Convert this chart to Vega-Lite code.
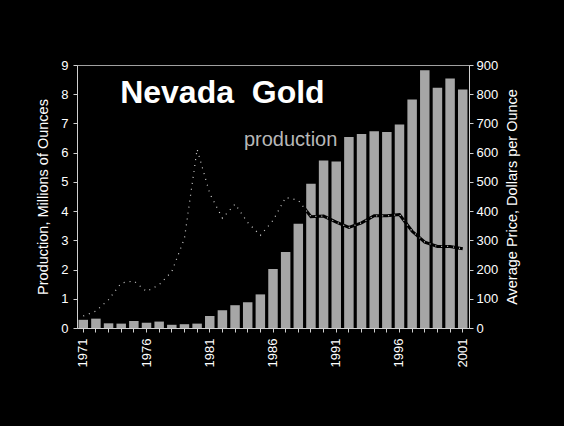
{
  "$schema": "https://vega.github.io/schema/vega-lite/v6.json",
  "width": 392,
  "height": 263,
  "autosize": {"type": "none"},
  "padding": {"left": 77, "top": 65, "right": 95, "bottom": 98},
  "background": "black",
  "config": {
    "font": "Liberation Sans",
    "view": {"stroke": "#a0a0a0", "strokeWidth": 1},
    "axis": {
      "labelColor": "white",
      "titleColor": "white",
      "domainColor": "#d0d0d0",
      "tickColor": "#d0d0d0",
      "labelFontSize": 13,
      "titleFontSize": 14.5,
      "titleFontWeight": "normal",
      "grid": false,
      "tickSize": 4,
      "labelOverlap": false
    }
  },
  "data": {
    "values": [
      {"year": 1971, "production": 0.28, "price": 41},
      {"year": 1972, "production": 0.32, "price": 58},
      {"year": 1973, "production": 0.16, "price": 97},
      {"year": 1974, "production": 0.15, "price": 154},
      {"year": 1975, "production": 0.24, "price": 161},
      {"year": 1976, "production": 0.18, "price": 125},
      {"year": 1977, "production": 0.22, "price": 148},
      {"year": 1978, "production": 0.11, "price": 193},
      {"year": 1979, "production": 0.13, "price": 307},
      {"year": 1980, "production": 0.15, "price": 612},
      {"year": 1981, "production": 0.41, "price": 460},
      {"year": 1982, "production": 0.61, "price": 376},
      {"year": 1983, "production": 0.78, "price": 424},
      {"year": 1984, "production": 0.88, "price": 361},
      {"year": 1985, "production": 1.15, "price": 317},
      {"year": 1986, "production": 2.02, "price": 368},
      {"year": 1987, "production": 2.6, "price": 447},
      {"year": 1988, "production": 3.57, "price": 437},
      {"year": 1989, "production": 4.94, "price": 381},
      {"year": 1990, "production": 5.73, "price": 383},
      {"year": 1991, "production": 5.7, "price": 362},
      {"year": 1992, "production": 6.54, "price": 344},
      {"year": 1993, "production": 6.64, "price": 360},
      {"year": 1994, "production": 6.73, "price": 384},
      {"year": 1995, "production": 6.71, "price": 384},
      {"year": 1996, "production": 6.96, "price": 388},
      {"year": 1997, "production": 7.82, "price": 331},
      {"year": 1998, "production": 8.82, "price": 294},
      {"year": 1999, "production": 8.22, "price": 279},
      {"year": 2000, "production": 8.54, "price": 279},
      {"year": 2001, "production": 8.16, "price": 271}
    ]
  },
  "encoding": {
    "x": {
      "field": "year",
      "type": "ordinal",
      "scale": {"paddingInner": 0.25, "paddingOuter": 0.12},
      "axis": {
        "title": null,
        "labelAngle": -90,
        "labelAlign": "right",
        "labelBaseline": "middle",
        "labelPadding": 6,
        "labelExpr": "(datum.value - 1971) % 5 == 0 ? datum.label : ''"
      }
    }
  },
  "layer": [
    {
      "mark": {"type": "bar", "color": "#a6a6a6"},
      "encoding": {
        "y": {
          "field": "production",
          "type": "quantitative",
          "scale": {"domain": [0, 9], "nice": false},
          "axis": {
            "title": "Production, Millions of Ounces",
            "values": [0, 1, 2, 3, 4, 5, 6, 7, 8, 9],
            "labelPadding": 5,
            "titlePadding": 10
          }
        }
      }
    },
    {
      "encoding": {
        "y": {
          "field": "price",
          "type": "quantitative",
          "scale": {"domain": [0, 900], "nice": false},
          "axis": {
            "orient": "right",
            "title": "Average Price, Dollars per Ounce",
            "titleAngle": 270,
            "titleBaseline": "top",
            "values": [0, 100, 200, 300, 400, 500, 600, 700, 800, 900],
            "labelPadding": 3,
            "titlePadding": 8
          }
        }
      },
      "layer": [
        {"mark": {"type": "line", "color": "black", "strokeWidth": 3}},
        {"mark": {"type": "line", "color": "#cccccc", "strokeWidth": 1.2, "strokeDash": [1, 5]}}
      ]
    },
    {
      "data": {"values": [{}]},
      "mark": {"type": "text", "color": "white", "fontSize": 32, "fontWeight": "bold", "align": "center", "baseline": "alphabetic", "text": "Nevada\u00a0 Gold"},
      "encoding": {
        "x": {"datum": 1982, "type": "ordinal"},
        "y": {"datum": 7.7, "type": "quantitative", "scale": {"domain": [0, 9], "nice": false}, "axis": null}
      }
    },
    {
      "data": {"values": [{}]},
      "mark": {"type": "text", "color": "#b8b8b8", "fontSize": 20, "align": "center", "baseline": "middle", "dx": 5, "text": "production"},
      "encoding": {
        "x": {"datum": 1987, "type": "ordinal"},
        "y": {"datum": 6.44, "type": "quantitative", "scale": {"domain": [0, 9], "nice": false}, "axis": null}
      }
    }
  ],
  "resolve": {"scale": {"y": "independent"}}
}
